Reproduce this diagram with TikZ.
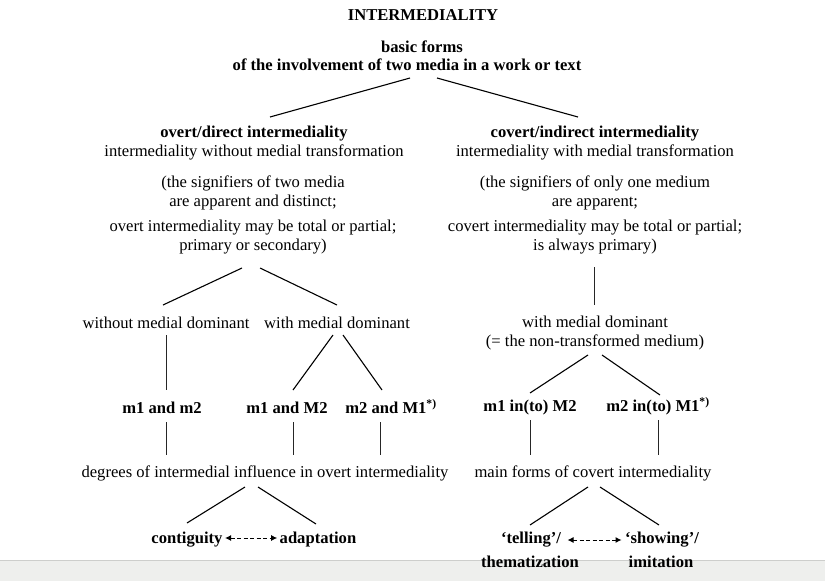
\documentclass[tikz,border=0pt]{standalone}
\usepackage{fontspec}
\setmainfont{Liberation Serif}
\usepackage{tikz}
\usetikzlibrary{arrows.meta}
\usetikzlibrary{calc}
\definecolor{bandgray}{RGB}{238,239,237}
\definecolor{bandline}{RGB}{205,206,204}

\begin{document}
\begin{tikzpicture}[x=1pt, y=1pt, line width=1.1pt,
    txt/.style = {font=\fontsize{16.6}{19.5}\selectfont, align=center, inner sep=2pt},
    bf/.style = {txt, font=\fontsize{16.6}{19.5}\selectfont\bfseries},
    vline/.style = {line width=0.7pt, black!85},
    dasharr/.style = {line width=1pt, dash pattern=on 4pt off 2.5pt, {Latex[length=6pt,width=6pt]}-{Latex[length=6pt,width=6pt]}}]
    \useasboundingbox (0,0) rectangle (825,-581);
    \fill[bandgray] (0,-560) rectangle (825,-581);
    \draw[bandline, line width=0.8pt] (0,-560) -- (825,-560);

    \node [bf] (title) at (423,-15) {INTERMEDIALITY};
    \node [bf] (basic) at (422,-47) {basic forms};
    \node [bf] (involve) at (407,-65) {of the involvement of two media in a work or text};

    \node [txt] (overt) at (254,-143) {\textbf{overt/direct intermediality}\\ intermediality without medial transformation};
    \node [txt] (overtnote) at (253,-215) {(the signifiers of two media\\ are apparent and distinct;\\[5pt] overt intermediality may be total or partial;\\ primary or secondary)};
    \node [txt] (covert) at (595,-143) {\textbf{covert/indirect intermediality}\\ intermediality with medial transformation};
    \node [txt] (covertnote) at (595,-215) {(the signifiers of only one medium\\ are apparent;\\[5pt] covert intermediality may be total or partial;\\ is always primary)};

    \node [txt] (withoutdom) at (166,-323) {without medial dominant};
    \node [txt] (withdom) at (337,-323) {with medial dominant};
    \node [txt] (withdomR) at (595,-333) {with medial dominant\\ (= the non-transformed medium)};

    \node [bf] (m1m2) at (162,-408) {m1 and m2};
    \node [bf] (m1M2) at (287,-408) {m1 and M2};
    \node [bf] (m2M1) at (391,-408) {m2 and M1\smash{\textsuperscript{*)}}};
    \node [bf] (m1inM2) at (530,-408) {m1 in(to) M2};
    \node [bf] (m2inM1) at (658,-408) {m2 in(to) M1\smash{\textsuperscript{*)}}};

    \node [txt] (degrees) at (265,-473) {degrees of intermedial influence in overt intermediality};
    \node [txt] (mainforms) at (593,-473) {main forms of covert intermediality};

    \node [bf] (contiguity) at (187,-540) {contiguity};
    \node [bf] (adaptation) at (318,-540) {adaptation};
    \node [bf] (telling) at (531,-540) {`telling'/};
    \node [bf] (themat) at (530,-562) {thematization};
    \node [bf] (showing) at (662,-540) {`showing'/};
    \node [bf] (imitation) at (661,-562) {imitation};

    \draw ($(involve)+(3,-13)$) -- ($(overt)+(16,26)$);
    \draw ($(involve)+(30,-13)$) -- ($(covert)+(-17,26)$);

    \draw ($(overtnote)+(-11,-53)$) -- ($(withoutdom)+(-3,18)$);
    \draw ($(overtnote)+(7,-53)$) -- ($(withdom)+(0,18)$);
    \draw [vline] ($(withoutdom)+(0,-12)$) -- ($(m1m2)+(4,18)$);
    \draw ($(withdom)+(-4,-12)$) -- ($(m1M2)+(6,18)$);
    \draw ($(withdom)+(6,-12)$) -- ($(m2M1)+(-9,18)$);
    \draw [vline] ($(m1m2)+(4,-14)$) -- ($(degrees)+(-99,18)$);
    \draw [vline] ($(m1M2)+(6,-14)$) -- ($(degrees)+(28,18)$);
    \draw [vline] ($(m2M1)+(-11,-14)$) -- ($(degrees)+(115,18)$);
    \draw ($(degrees)+(-20,-14)$) -- ($(contiguity)+(0,17)$);
    \draw ($(degrees)+(-7,-14)$) -- ($(adaptation)+(-2,16)$);
    \draw [dasharr] ([yshift=2pt]contiguity.east) -- ([yshift=2pt]adaptation.west);

    \draw [vline] ($(covertnote)+(-1,-52)$) -- ($(withdomR)+(-1,28)$);
    \draw ($(withdomR)+(-7,-22)$) -- ($(m1inM2)+(0,15)$);
    \draw ($(withdomR)+(7,-22)$) -- ($(m2inM1)+(2,13)$);
    \draw [vline] ($(m1inM2)+(0,-12)$) -- ($(mainforms)+(-63,18)$);
    \draw [vline] ($(m2inM1)+(0,-12)$) -- ($(mainforms)+(65,18)$);
    \draw ($(mainforms)+(-5,-14)$) -- ($(telling)+(-1,15)$);
    \draw ($(mainforms)+(7,-14)$) -- ($(showing)+(-3,15)$);
    \draw [dasharr] ($(telling.east)+(4,0)$) -- ($(showing.west)+(-1,0)$);

\end{tikzpicture}
\end{document}
